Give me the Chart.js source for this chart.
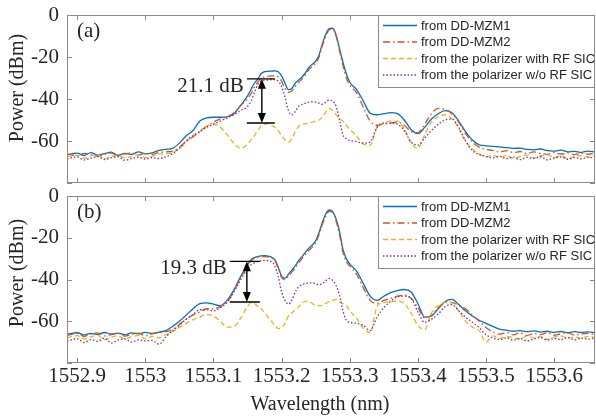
<!DOCTYPE html>
<html>
<head>
<meta charset="utf-8">
<script src="https://cdn.jsdelivr.net/npm/chart.js@4.4.0/dist/chart.umd.min.js"></script>
<style>
html, body { margin: 0; padding: 0; background: #fff; }
#wrap { position: relative; width: 596px; height: 419px; overflow: hidden; }
canvas { position: absolute; left: 0; }
#cA { top: 0; }
#cB { top: 185px; }
</style>
</head>
<body>
<div id="wrap">
<canvas id="cA" width="596" height="184"></canvas>
<canvas id="cB" width="596" height="234"></canvas>
</div>
<script>
// wavelength grid (nm), finer around the main peaks
const WL = [
  1552.885, 1552.90, 1552.91, 1552.92, 1552.93, 1552.94, 1552.95, 1552.96, 1552.97, 1552.98, 1552.99,
  1553.00, 1553.01, 1553.02, 1553.03, 1553.04, 1553.05, 1553.06, 1553.07, 1553.08, 1553.09,
  1553.10, 1553.11, 1553.12, 1553.13, 1553.14, 1553.15,
  1553.155, 1553.16, 1553.165, 1553.17, 1553.175, 1553.18, 1553.185, 1553.19, 1553.195, 1553.20,
  1553.205, 1553.21, 1553.215, 1553.22, 1553.225, 1553.23, 1553.235, 1553.24, 1553.245, 1553.25,
  1553.255, 1553.26, 1553.265, 1553.27, 1553.275, 1553.28, 1553.285, 1553.29, 1553.295, 1553.30,
  1553.31, 1553.32, 1553.33, 1553.34, 1553.35, 1553.36, 1553.37, 1553.38, 1553.39, 1553.40,
  1553.41, 1553.42, 1553.43, 1553.44, 1553.45, 1553.46, 1553.47, 1553.48, 1553.49, 1553.50,
  1553.51, 1553.52, 1553.53, 1553.54, 1553.55, 1553.56, 1553.57, 1553.58, 1553.59, 1553.60,
  1553.61, 1553.62, 1553.63, 1553.64, 1553.65, 1553.66
];

const SERIES_NAMES = ["from DD-MZM1", "from DD-MZM2", "from the polarizer with RF SIC", "from the polarizer w/o RF SIC"];

const XTICKS = [1552.9, 1553.0, 1553.1, 1553.2, 1553.3, 1553.4, 1553.5, 1553.6];
const XTICK_LABELS = ["1552.9", "1553", "1553.1", "1553.2", "1553.3", "1553.4", "1553.5", "1553.6"];
const YTICKS = [-80, -60, -40, -20, 0];
const YTICK_LABELS = ["", "-60", "-40", "-20", "0"];

// panel (a)
const A_MZM1 = [
  -66.5, -65.8, -66.9, -65.5, -66.7, -66.0, -65.3, -66.8, -65.9, -66.4, -65.2, -66.1, -65.6,
  -64.5, -64, -63.5,
  -61, -57.5, -55, -50.5, -49, -48.7, -48.7, -48.5, -47, -43, -38.5,
  -35.5, -32.5, -30.5, -28, -27, -26.8, -26.7, -26.6, -27, -29, -32.5, -35.5, -35, -32.5, -31,
  -29.5, -27.5, -25, -23.5, -22, -19, -13.5, -9, -6.5, -6.3, -9.5, -16, -22.5, -28, -32,
  -35.5, -41, -46.8, -47.5, -47, -46.5, -47, -50, -54.5, -56.5, -53.5, -49.5, -47, -45.5, -46.5,
  -50.5, -55.5, -59.5, -61.8, -62.3, -62.6, -62.8, -63.2, -63.5, -63.4, -64, -64.2, -63.8, -64.6,
  -64.8, -64.3, -65.2, -64.9, -65.4, -64.8, -65.3
];
const A_MZM2 = [
  -66.2, -67, -65.9, -66.5, -67.2, -66.3, -65.8, -66.9, -66.1, -65.7, -66.6, -65.9, -66.4, -65.5, -65.2, -64.8,
  -63, -60, -58, -55.5, -53, -51, -49.5, -48.5, -46.5, -43, -40,
  -37.5, -34.5, -32, -30, -29.5, -29.2, -29, -29, -29.5, -31.5, -35, -36.8, -36.2, -34, -32,
  -30.5, -28.5, -26, -24.5, -23, -20, -14.5, -10, -7, -6.8, -10, -17, -24, -30, -33.5,
  -37, -44, -50.5, -52.5, -52, -51.5, -51, -52.5, -55.5, -56, -52, -47, -44.5, -45, -47,
  -51, -56.5, -60.5, -63, -64, -64.5, -65.3, -64.6, -65.5, -65, -66, -65.2, -65.9, -66.4,
  -65.5, -66.2, -65.7, -66.5, -65.8, -66.3, -65.9
];
const A_WITH = [
  -67.5, -66.8, -68.2, -67, -66.5, -68.5, -67.3, -66.9, -68, -67.4, -66.6, -67.9, -67.2, -66.3, -66,
  -65.5, -63.5, -60.5, -57.5, -55.5, -53, -52, -53.5, -57, -61, -63.5, -61.5,
  -59.5, -57.5, -55, -53, -52, -51.8, -52.5, -53.5, -55, -57.5, -59.5, -60.5, -59, -55.5, -53,
  -52, -51.8, -51.5, -51, -50.5, -50, -48.5, -46, -44.5, -45.5, -47.5, -49.5, -50.5, -52.5, -54.5,
  -57.5, -61.5, -62, -53.5, -51.5, -50.5, -50.5, -54, -61, -63.5, -57, -51, -48.5, -47.5, -49.5,
  -54, -60, -63.8, -66, -67.5, -66.8, -67.9, -66.9, -68.3, -67.4, -66.7, -68.1, -67.2, -66.6,
  -67.8, -67, -68.4, -67.3, -66.9, -67.7, -67.1
];
const A_WO = [
  -68.5, -67.6, -69, -68.2, -67.4, -68.8, -68, -67.5, -69.2, -68.3, -67.7, -68.6, -67.9, -68.4, -67.5,
  -66, -63.5, -60, -57.5, -55.5, -53.5, -52, -50.5, -49, -47.5, -45.5, -43.5,
  -41, -37, -33, -31.5, -31, -31, -30.8, -30.8, -31.5, -34, -39, -45.5, -47.5, -46, -43.5,
  -42.5, -42, -41.5, -41.3, -41.5, -42, -42.5, -41.5, -40.5, -41, -43.5, -50, -57, -59, -59.8,
  -60.3, -61, -60.5, -53.5, -51.5, -51.5, -52, -55, -60.5, -62, -58.5, -55, -52, -50, -49.5,
  -53.5, -60, -64.5, -66.5, -67.3, -68, -67.2, -68.4, -67.6, -68.9, -67.8, -68.3, -67.5, -69,
  -68.1, -67.6, -68.7, -67.9, -68.5, -67.7, -68.2
];

// panel (b)
const B_MZM1 = [
  -66.2, -65.5, -66.6, -65.8, -66.3, -65.4, -66.1, -65.7, -66.5, -65.6, -66, -65.3, -65.8,
  -65.2, -64.5, -62.5, -60, -57, -54, -51.5, -51.2, -51.8, -52.5, -50, -45, -38.5, -33,
  -30.5, -29.5, -29, -28.7, -28.6, -28.8, -29.3, -30.5, -34, -38.5, -39.5, -37.5, -35.5, -33.5, -31,
  -29, -27, -25, -23.5, -21.5, -17.5, -12.5, -8.5, -6.7, -7.5, -11, -17, -25.5, -30, -32.5,
  -36, -42, -48, -50, -48, -46.3, -45.3, -44.8, -46, -51.5, -58, -57.5, -54, -50.5, -49.5,
  -52, -55, -57.5, -59.5, -61, -62.5, -63.8, -64.3, -64.8, -64.5, -65, -64.6, -65.2, -64.8,
  -65.3, -64.9, -65.5, -65, -65.4, -65.1, -65.5
];
const B_MZM2 = [
  -66.8, -65.9, -67.3, -66.2, -65.6, -67, -66.4, -65.8, -67.1, -66.3, -65.7, -66.9, -66, -65.4,
  -65, -64, -61.5, -59, -57, -55.5, -54, -54, -53, -50.5, -45.5, -39, -33.5,
  -31, -29.8, -29.3, -29, -29, -29.2, -29.6, -31, -34.5, -39, -40, -38.5, -36.5, -34.5, -32,
  -30, -28, -26, -24.5, -22.5, -18.5, -13.5, -9.5, -7.3, -8, -12, -18.5, -27, -31.5, -33.5,
  -37.5, -44, -50, -51.5, -50, -49, -48, -47.5, -49, -53.5, -58.5, -57, -53.5, -51, -51,
  -52.5, -54, -57, -60, -63, -65, -66.2, -65.4, -66.5, -65.6, -66.8, -65.9, -66.4, -65.5,
  -66.7, -66, -65.6, -66.6, -66.1, -65.8, -66.4
];
const B_WITH = [
  -67.8, -66.9, -68.5, -67.4, -66.8, -68.9, -67.6, -67, -68.3, -67.5, -66.7, -68.6, -67.2, -67.9,
  -66.5, -65, -63, -61, -59.3, -58, -56.8, -57.5, -60, -62.8, -62.5, -58.5, -53,
  -51.2, -51.5, -53, -54, -56, -58, -60, -62, -63.5, -63.3, -61, -57.5, -56, -54.5, -53,
  -51.5, -50.5, -50.5, -51.5, -52.3, -52.5, -52.5, -51.5, -50.5, -50, -49.5, -50.5, -51.5, -52.5, -55,
  -58.5, -63.5, -65.5, -53, -51, -50.6, -50.3, -51.5, -56, -62, -64, -56, -52.5, -51, -51.2,
  -55, -60, -62.8, -64.5, -70, -67, -68.2, -67.3, -67.9, -68.5, -67.1, -68, -67.4, -68.7,
  -67.6, -67, -68.3, -67.5, -68.1, -67.2, -67.8
];
const B_WO = [
  -69.5, -68.3, -70.2, -68.8, -69.6, -68.1, -70.5, -69, -68.5, -70, -68.9, -69.4, -69.2, -71, -67.5,
  -64.5, -62, -59, -56.8, -54.5, -54.5, -55, -53.5, -51, -46, -40, -35,
  -33, -32, -31.3, -31, -30.8, -31, -31.5, -33.5, -38.5, -46, -50, -51.8, -50, -46, -43.5,
  -42.5, -42, -41.7, -41.6, -42, -42.5, -42, -40.5, -39.5, -40.5, -43, -47.5, -55, -59.5, -60.5,
  -61, -62, -64.5, -58, -53.5, -50.5, -48.3, -48, -49, -55.5, -60.5, -59, -56.5, -53, -52,
  -55, -58, -60.5, -63, -66.5, -68, -68.7, -67.9, -69.1, -68.3, -69.4, -68.5, -67.8, -69,
  -68.2, -68.8, -67.7, -68.9, -68.1, -68.6, -68
];

// extinction markers (wavelengths and levels of the double arrows)
const MARK_A = { x: 1553.171, from: 1553.149, to: 1553.19, top: -30.4, bottom: -51.4, label: "21.1 dB" };
const MARK_B = { x: 1553.149, from: 1553.124, to: 1553.168, top: -31.3, bottom: -50.8, label: "19.3 dB" };

const SERIF = '"Liberation Serif", "Times New Roman", serif';
const SANS = '"Liberation Sans", Arial, sans-serif';
const INK = "#262626";
const FRAME = "#8a8a8a";
const COLORS = ["#0072BD", "#D95319", "#EDB120", "#7E2F8E"];
const DASHES = [[], [7, 3, 1.5, 3], [5, 3], [1.5, 2]];

function datasets(lists) {
  return lists.map((vals, i) => ({
    label: SERIES_NAMES[i],
    data: vals.map((v, k) => ({ x: WL[k], y: v })),
    borderColor: COLORS[i],
    borderWidth: 1.3,
    borderDash: DASHES[i],
    pointRadius: 0,
    cubicInterpolationMode: "monotone",
    fill: false,
    order: 4 - i
  }));
}

function arrowHead(ctx, x, y, dir) {
  ctx.beginPath();
  ctx.moveTo(x, y);
  ctx.lineTo(x - 4, y + dir * 10);
  ctx.lineTo(x + 4, y + dir * 10);
  ctx.closePath();
  ctx.fill();
}

function overlay(cfg) {
  return {
    id: "overlay",
    afterDatasetsDraw(chart) {
      const ctx = chart.ctx, a = chart.chartArea;
      const xs = chart.scales.x, ys = chart.scales.y;
      ctx.save();

      // frame and inward ticks (matlab style box)
      ctx.strokeStyle = FRAME;
      ctx.lineWidth = 1;
      ctx.strokeRect(a.left + 0.5, a.top + 0.5, a.right - a.left - 1, a.bottom - a.top - 1);
      ctx.beginPath();
      XTICKS.forEach(v => {
        const px = Math.round(xs.getPixelForValue(v)) + 0.5;
        ctx.moveTo(px, a.bottom); ctx.lineTo(px, a.bottom - 5);
        ctx.moveTo(px, a.top); ctx.lineTo(px, a.top + 5);
      });
      YTICKS.forEach(v => {
        const py = Math.round(ys.getPixelForValue(v)) + 0.5;
        ctx.moveTo(a.left, py); ctx.lineTo(a.left + 5, py);
        ctx.moveTo(a.right, py); ctx.lineTo(a.right - 5, py);
      });
      ctx.stroke();

      // panel tag
      ctx.fillStyle = INK;
      ctx.font = "21px " + SERIF;
      ctx.textAlign = "left";
      ctx.textBaseline = "middle";
      ctx.fillText(cfg.tag, a.left + 10, a.top + 16);

      // extinction marker
      const m = cfg.mark;
      const xp = xs.getPixelForValue(m.x);
      const yt = ys.getPixelForValue(m.top), yb = ys.getPixelForValue(m.bottom);
      const x0 = xs.getPixelForValue(m.from), x1 = xs.getPixelForValue(m.to);
      ctx.strokeStyle = "#000";
      ctx.fillStyle = "#000";
      ctx.lineWidth = 1.4;
      ctx.beginPath();
      ctx.moveTo(x0, yt); ctx.lineTo(x1, yt);
      ctx.moveTo(x0, yb); ctx.lineTo(x1, yb);
      ctx.moveTo(xp, yt + 8); ctx.lineTo(xp, yb - 8);
      ctx.stroke();
      arrowHead(ctx, xp, yt, 1);
      arrowHead(ctx, xp, yb, -1);
      ctx.fillStyle = INK;
      ctx.textAlign = "right";
      ctx.fillText(m.label, x0 - 3, ys.getPixelForValue(m.top - 3.5));

      // legend
      const lx = 378, ly = a.top, lw = a.right - lx - 1, lh = 72;
      ctx.fillStyle = "#fff";
      ctx.fillRect(lx, ly, lw, lh);
      ctx.strokeStyle = FRAME;
      ctx.lineWidth = 1;
      ctx.strokeRect(lx + 0.5, ly + 0.5, lw, lh);
      ctx.font = "13px " + SANS;
      ctx.textAlign = "left";
      chart.data.datasets.forEach((ds, i) => {
        const y = ly + 10.5 + i * 16.5;
        ctx.strokeStyle = ds.borderColor;
        ctx.lineWidth = 1.3;
        ctx.setLineDash(ds.borderDash);
        ctx.beginPath();
        ctx.moveTo(383, y); ctx.lineTo(417, y);
        ctx.stroke();
        ctx.setLineDash([]);
        ctx.fillStyle = INK;
        ctx.fillText(ds.label, 421, y + 0.5);
      });

      // axis titles
      ctx.fillStyle = INK;
      ctx.font = "20px " + SERIF;
      ctx.textAlign = "center";
      ctx.save();
      ctx.translate(18, a.top + cfg.titleOffset);
      ctx.rotate(-Math.PI / 2);
      ctx.fillText("Power (dBm)", 0, 0);
      ctx.restore();
      if (cfg.xTitle) {
        ctx.fillText("Wavelength (nm)", 320, a.bottom + 42);
      }
      ctx.restore();
    }
  };
}

function panel(canvasId, lists, cfg) {
  new Chart(document.getElementById(canvasId), {
    type: "line",
    data: { datasets: datasets(lists) },
    options: {
      responsive: false,
      animation: false,
      devicePixelRatio: 1,
      layout: { padding: { top: cfg.padTop, right: 1, left: 0, bottom: 0 } },
      plugins: { legend: { display: false }, tooltip: { enabled: false } },
      scales: {
        x: {
          type: "linear",
          min: 1552.885,
          max: 1553.66,
          afterBuildTicks: s => { s.ticks = XTICKS.map(v => ({ value: v })); },
          afterFit: s => {
            s.height = cfg.xHeight;
            s.paddingLeft = 0; s.paddingRight = 0;
          },
          ticks: {
            display: cfg.xTitle,
            autoSkip: false,
            maxRotation: 0,
            padding: 1,
            color: INK,
            font: { family: SERIF, size: 21 },
            callback: (v, i) => XTICK_LABELS[i]
          },
          grid: { display: false, drawTicks: false },
          border: { display: false }
        },
        y: {
          min: -80,
          max: 0,
          afterBuildTicks: s => { s.ticks = YTICKS.map(v => ({ value: v })); },
          afterFit: s => {
            s.width = 67;
            s.paddingTop = 0; s.paddingBottom = 0;
          },
          ticks: {
            padding: 8,
            color: INK,
            font: { family: SERIF, size: 21 },
            callback: (v, i) => YTICK_LABELS[i]
          },
          grid: { display: false, drawTicks: false },
          border: { display: false }
        }
      }
    },
    plugins: [overlay(cfg)]
  });
}

function draw() {
  panel("cA", [A_MZM1, A_MZM2, A_WITH, A_WO],
    { tag: "(a)", mark: MARK_A, padTop: 15, xHeight: 1, xTitle: false, titleOffset: 73 });
  panel("cB", [B_MZM1, B_MZM2, B_WITH, B_WO],
    { tag: "(b)", mark: MARK_B, padTop: 11, xHeight: 56, xTitle: true, titleOffset: 77 });
}

Promise.all([
  document.fonts.load('21px "Liberation Serif"'),
  document.fonts.load('13px "Liberation Sans"')
]).then(draw, draw);
</script>
</body>
</html>
